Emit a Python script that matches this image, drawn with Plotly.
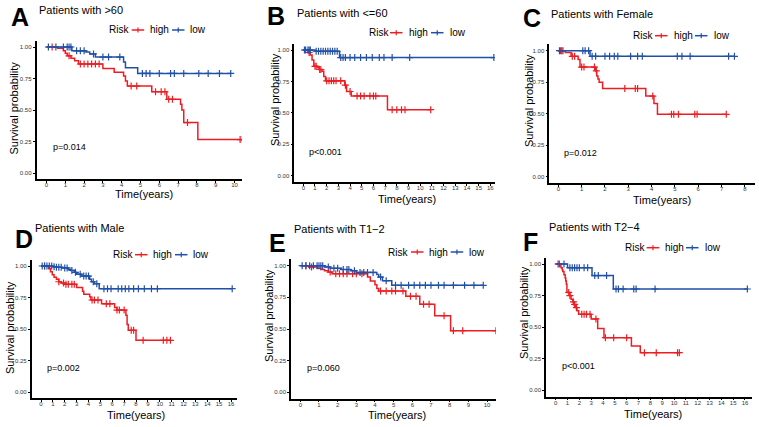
import numpy as np
import plotly.graph_objects as go

W, H = 759, 427
RED = "#EE1D23"
BLUE = "#2150A8"
FONT = "Liberation Sans, Arial, sans-serif"

# ---------------- data ----------------
panel_letters = ["A", "B", "C", "D", "E", "F"]
panel_titles = ["Patients with >60", "Patients with <=60", "Patients with Female",
                "Patients with Male", "Patients with T1\u22122", "Patients with T2\u22124"]
p_values = ["p=0.014", "p<0.001", "p=0.012", "p=0.002", "p=0.060", "p<0.001"]
legend_title = "Risk"
legend_labels = ["high", "low"]
y_ticks = [0, 0.25, 0.5, 0.75, 1.0]

A_high_t = [0.6, 0.9, 1.0, 1.1, 1.3, 1.5, 1.7, 3.0, 3.6, 4.1, 4.2, 4.3, 5.6, 6.4, 7.13, 7.2, 7.3, 8.05]
A_high_s = [0.99, 0.97, 0.95, 0.93, 0.91, 0.89, 0.865, 0.83, 0.80, 0.77, 0.73, 0.69, 0.645, 0.585, 0.545, 0.50, 0.40, 0.265]
A_high_c = [0.3, 1.2, 1.8, 2.0, 2.2, 2.4, 2.6, 2.8, 4.5, 4.8, 5.8, 6.1, 6.3, 6.5, 6.7, 7.5, 10.3, 10.42]
A_low_t = [1.35, 2.1, 2.3, 2.6, 4.1, 4.2, 4.85]
A_low_s = [0.97, 0.96, 0.945, 0.92, 0.88, 0.835, 0.79]
A_low_c = [0.1, 0.5, 0.9, 1.1, 1.2, 1.3, 1.6, 1.8, 2.0, 2.5, 3.0, 3.3, 3.9, 5.1, 5.3, 5.5, 6.0, 6.6, 6.8, 7.3, 8.1, 8.6, 9.2, 9.8]

B_high_t = [0.4, 0.6, 0.75, 0.9, 1.2, 1.35, 1.6, 1.75, 1.9, 3.55, 3.7, 4.1, 7.2]
B_high_s = [0.98, 0.96, 0.92, 0.87, 0.86, 0.845, 0.83, 0.79, 0.755, 0.72, 0.67, 0.635, 0.525]
B_high_c = [0.5, 1.0, 1.1, 1.4, 1.5, 2.0, 2.2, 2.4, 2.6, 2.8, 3.2, 3.6, 4.0, 4.6, 4.9, 5.2, 5.7, 6.0, 6.2, 7.6, 8.0, 8.4, 8.7, 10.9]
B_low_t = [1.0, 3.1]
B_low_s = [0.99, 0.94]
B_low_c = [0.1, 0.2, 0.4, 0.5, 0.6, 1.1, 1.3, 1.5, 1.7, 1.9, 2.1, 2.3, 2.5, 2.7, 2.9, 3.2, 3.4, 3.6, 4.0, 4.4, 4.9, 5.4, 5.9, 6.5, 6.9, 7.6, 9.1, 16.3]

C_high_t = [0.3, 0.55, 0.85, 0.93, 1.6, 1.65, 1.7, 1.75, 1.9, 3.75, 4.1, 4.25]
C_high_s = [0.985, 0.955, 0.93, 0.87, 0.84, 0.80, 0.775, 0.75, 0.70, 0.64, 0.58, 0.495]
C_high_c = [0.1, 0.2, 0.6, 0.7, 1.0, 1.1, 1.55, 1.63, 2.85, 3.3, 3.4, 4.05, 4.85, 4.95, 5.15, 5.85, 5.95, 7.2]
C_low_t = [1.36]
C_low_s = [0.955]
C_low_c = [0.05, 0.15, 1.05, 1.15, 1.3, 1.45, 1.6, 2.0, 2.2, 2.4, 2.55, 3.1, 3.4, 3.6, 5.1, 5.3, 5.65, 7.3, 7.55]

D_high_t = [0.65, 0.8, 0.95, 1.1, 1.3, 1.5, 1.7, 2.0, 3.0, 3.5, 3.6, 4.1, 4.2, 5.1, 6.2, 6.4, 7.15, 7.25, 7.35, 8.0]
D_high_s = [0.98, 0.955, 0.93, 0.91, 0.895, 0.875, 0.865, 0.855, 0.83, 0.80, 0.775, 0.755, 0.73, 0.70, 0.67, 0.65, 0.61, 0.535, 0.49, 0.41]
D_high_c = [0.3, 1.5, 1.9, 2.1, 2.3, 2.6, 2.8, 4.3, 4.5, 4.8, 5.5, 5.8, 6.4, 6.6, 7.0, 7.6, 7.8, 8.6, 10.3, 10.6, 10.9]
D_low_t = [1.0, 1.3, 1.8, 2.3, 2.5, 2.8, 3.0, 3.4, 4.1, 4.25, 4.5, 4.9]
D_low_s = [0.995, 0.99, 0.985, 0.975, 0.965, 0.95, 0.935, 0.92, 0.895, 0.875, 0.86, 0.82]
D_low_c = [0.1, 0.3, 0.5, 0.7, 0.9, 1.1, 1.3, 1.5, 1.7, 2.0, 2.2, 2.6, 2.9, 3.3, 3.6, 3.8, 4.0, 4.4, 4.7, 5.3, 5.6, 5.9, 6.5, 6.8, 7.1, 7.4, 7.8, 8.2, 8.7, 9.3, 9.8, 16.1]

E_high_t = [0.45, 0.9, 1.1, 1.3, 1.5, 1.7, 3.6, 3.75, 4.0, 4.1, 4.2, 5.65, 6.4, 7.2, 8.05]
E_high_s = [0.99, 0.98, 0.97, 0.96, 0.95, 0.937, 0.91, 0.88, 0.85, 0.82, 0.80, 0.758, 0.695, 0.605, 0.487]
E_high_c = [0.3, 0.6, 1.6, 1.9, 2.1, 2.3, 2.5, 2.8, 3.0, 3.3, 4.3, 4.6, 4.9, 5.1, 5.5, 5.9, 6.2, 6.6, 6.9, 7.7, 8.2, 8.7, 10.48]
E_low_t = [1.3, 1.6, 2.2, 2.7, 3.0, 4.1, 4.2, 4.4, 4.9]
E_low_s = [0.99, 0.98, 0.97, 0.96, 0.947, 0.93, 0.91, 0.882, 0.845]
E_low_c = [0.1, 0.3, 0.5, 0.7, 0.9, 1.0, 1.1, 1.2, 1.5, 1.8, 2.0, 2.3, 2.5, 2.6, 2.9, 3.2, 3.4, 3.6, 3.9, 4.3, 4.6, 5.1, 5.4, 5.8, 6.1, 6.4, 6.7, 7.0, 7.4, 7.7, 8.2, 8.8, 9.3, 9.8]

F_high_t = [0.35, 0.45, 0.55, 0.6, 0.7, 0.8, 0.85, 0.9, 0.95, 1.2, 1.3, 1.45, 1.55, 1.7, 1.8, 1.94, 3.0, 3.55, 4.08, 6.4, 7.15]
F_high_s = [0.985, 0.97, 0.955, 0.94, 0.915, 0.89, 0.865, 0.84, 0.775, 0.75, 0.72, 0.70, 0.68, 0.655, 0.63, 0.602, 0.565, 0.49, 0.417, 0.351, 0.298]
F_high_c = [0.2, 1.1, 1.2, 1.5, 1.6, 1.75, 2.2, 2.4, 2.6, 2.9, 3.4, 4.2, 4.9, 6.0, 7.5, 8.5, 10.3, 10.45]
F_low_t = [1.0, 3.07, 4.87]
F_low_s = [0.971, 0.908, 0.802]
F_low_c = [0.3, 0.7, 1.2, 1.4, 1.6, 1.8, 2.0, 2.4, 2.7, 3.3, 3.6, 4.3, 5.1, 5.3, 5.7, 6.6, 6.8, 8.4, 16.2]

DATA = [
    ((A_high_t, A_high_s, A_high_c), (A_low_t, A_low_s, A_low_c)),
    ((B_high_t, B_high_s, B_high_c), (B_low_t, B_low_s, B_low_c)),
    ((C_high_t, C_high_s, C_high_c), (C_low_t, C_low_s, C_low_c)),
    ((D_high_t, D_high_s, D_high_c), (D_low_t, D_low_s, D_low_c)),
    ((E_high_t, E_high_s, E_high_c), (E_low_t, E_low_s, E_low_c)),
    ((F_high_t, F_high_s, F_high_c), (F_low_t, F_low_s, F_low_c)),
]

# ---------------- layout geometry (pixels) ----------------
GEOM = [
    dict(l=36.5, x0=46.5, ppy=18.8, r=242, y1=47, y0=173),
    dict(l=294.3, x0=303.3, ppy=11.69, r=495, y1=50, y0=175.7),
    dict(l=549.3, x0=558.3, ppy=23.33, r=755, y1=50.7, y0=176.7),
    dict(l=31.7, x0=41, ppy=11.875, r=237, y1=266, y0=392),
    dict(l=291, x0=300.3, ppy=18.67, r=496, y1=265.7, y0=392.3),
    dict(l=546, x0=555.7, ppy=11.83, r=751.7, y1=264, y0=390.3),
]
TEXTPOS = [
    dict(letter=(9, 16.5), title=(37.3, 9.5), risk=(107.3, 30), k1=131.7, hi=148.3, k2=172, lo=188.3,
         ylab=(14.2, 108.3), xlab=(143.5, 194), p=(50.7, 146.7)),
    dict(letter=(265, 16), title=(295, 12.7), risk=(366.7, 32.7), k1=390, hi=407.3, k2=431, lo=447.7,
         ylab=(275, 100), xlab=(406.7, 199), p=(307.3, 151.7)),
    dict(letter=(520.7, 18.3), title=(549.3, 14), risk=(631, 35.7), k1=655, hi=671.7, k2=695, lo=711.7,
         ylab=(528.3, 100.7), xlab=(661.7, 200), p=(562.3, 153.3)),
    dict(letter=(12.7, 238.7), title=(32.7, 228), risk=(110.7, 254.7), k1=135, hi=151, k2=175, lo=190.7,
         ylab=(9.3, 327.7), xlab=(135.8, 415.3), p=(45, 367.7)),
    dict(letter=(267.3, 243.3), title=(291.7, 228.7), risk=(386, 252), k1=411, hi=426.7, k2=450.7, lo=466.7,
         ylab=(269, 316), xlab=(397, 415), p=(305, 367.7)),
    dict(letter=(520.7, 241.7), title=(547.3, 227), risk=(622.7, 247.7), k1=646.7, hi=663.3, k2=686, lo=702.7,
         ylab=(523.3, 312.7), xlab=(653.3, 413.7), p=(560, 366)),
]


def px(x):
    return x / W


def py(y):
    return 1 - y / H


fig = go.Figure()
annotations = []
shapes = []
layout = {}

for i, ((hi_t, hi_s, hi_c), (lo_t, lo_s, lo_c)) in enumerate(DATA):
    k = i + 1
    xa = "x" if k == 1 else f"x{k}"
    ya = "y" if k == 1 else f"y{k}"
    g = GEOM[i]
    upp = g["y0"] - g["y1"]
    ybot = g["y0"] + 0.05 * upp
    ytop = g["y1"] - 0.05 * upp
    xr = [-(g["x0"] - g["l"]) / g["ppy"], (g["r"] - g["x0"]) / g["ppy"]]
    tmax = int(np.floor(xr[1]))

    for (t, s, c, col) in [(hi_t, hi_s, hi_c, RED), (lo_t, lo_s, lo_c, BLUE)]:
        t = np.asarray(t, float)
        s = np.asarray(s, float)
        c = np.asarray(c, float)
        end = max(c.max(), t.max())
        xs = np.concatenate([[0.0], t, [end]])
        ys = np.concatenate([[1.0], s, [s[-1]]])
        fig.add_trace(go.Scatter(x=xs, y=ys, mode="lines", line=dict(color=col, width=1.5, shape="hv"),
                                 xaxis=xa, yaxis=ya, showlegend=False, hoverinfo="skip"))
        idx = np.searchsorted(t, c, side="right")
        allS = np.concatenate([[1.0], s])
        cy = allS[idx]
        fig.add_trace(go.Scatter(x=c, y=cy, mode="markers",
                                 marker=dict(symbol="cross-thin", size=5, line=dict(color=col, width=1.2)),
                                 xaxis=xa, yaxis=ya, showlegend=False, hoverinfo="skip"))

    xkey = "xaxis" if k == 1 else f"xaxis{k}"
    ykey = "yaxis" if k == 1 else f"yaxis{k}"
    layout[xkey] = dict(domain=[px(g["l"]), px(g["r"])], anchor=ya, range=xr,
                        tickmode="array", tickvals=list(range(0, tmax + 1)),
                        ticktext=[str(v) for v in range(0, tmax + 1)],
                        showline=True, linecolor="black", linewidth=1.6, showgrid=False, zeroline=False,
                        ticks="outside", ticklen=2, tickwidth=0.8, tickcolor="black",
                        ticklabelstandoff=-3,
                        tickfont=dict(size=6, color="#333333", family=FONT))
    layout[ykey] = dict(domain=[py(ybot), py(ytop)], anchor=xa, range=[-0.05, 1.05],
                        tickmode="array", tickvals=y_ticks, ticktext=[f"{v:.2f}" for v in y_ticks],
                        showline=True, linecolor="black", linewidth=1.6, showgrid=False, zeroline=False,
                        ticks="outside", ticklen=2, tickwidth=0.8, tickcolor="black",
                        tickfont=dict(size=6, color="#333333", family=FONT))

    tp = TEXTPOS[i]
    annotations.append(dict(text=f"<b>{panel_letters[i]}</b>", x=px(tp["letter"][0]), y=py(tp["letter"][1]),
                            xref="paper", yref="paper", xanchor="left", yanchor="middle", showarrow=False,
                            font=dict(size=25, color="black", family=FONT)))
    annotations.append(dict(text=panel_titles[i], x=px(tp["title"][0]), y=py(tp["title"][1]),
                            xref="paper", yref="paper", xanchor="left", yanchor="middle", showarrow=False,
                            font=dict(size=11, color="black", family=FONT)))
    annotations.append(dict(text=legend_title, x=px(tp["risk"][0]), y=py(tp["risk"][1]),
                            xref="paper", yref="paper", xanchor="left", yanchor="middle", showarrow=False,
                            font=dict(size=10, color="black", family=FONT)))
    for lab, kx, tx, col in [(legend_labels[0], tp["k1"], tp["hi"], RED), (legend_labels[1], tp["k2"], tp["lo"], BLUE)]:
        annotations.append(dict(text=lab, x=px(tx), y=py(tp["risk"][1]),
                                xref="paper", yref="paper", xanchor="left", yanchor="middle", showarrow=False,
                                font=dict(size=10, color="black", family=FONT)))
        ly = py(tp["risk"][1])
        shapes.append(dict(type="line", xref="paper", yref="paper", x0=px(kx), x1=px(kx + 12.5),
                           y0=ly, y1=ly, line=dict(color=col, width=1.5)))
        shapes.append(dict(type="line", xref="paper", yref="paper", x0=px(kx + 6.25), x1=px(kx + 6.25),
                           y0=ly - 2.5 / H, y1=ly + 2.5 / H, line=dict(color=col, width=1.2)))
    annotations.append(dict(text="Survival probability", x=px(tp["ylab"][0]), y=py(tp["ylab"][1]),
                            xref="paper", yref="paper", xanchor="center", yanchor="middle", showarrow=False,
                            textangle=-90, font=dict(size=11, color="black", family=FONT)))
    annotations.append(dict(text="Time(years)", x=px(tp["xlab"][0]), y=py(tp["xlab"][1]),
                            xref="paper", yref="paper", xanchor="center", yanchor="middle", showarrow=False,
                            font=dict(size=11, color="black", family=FONT)))
    annotations.append(dict(text=p_values[i], x=px(tp["p"][0]), y=py(tp["p"][1]),
                            xref="paper", yref="paper", xanchor="left", yanchor="middle", showarrow=False,
                            font=dict(size=9, color="black", family=FONT)))

fig.update_layout(width=W, height=H, margin=dict(l=0, r=0, t=0, b=0),
                  paper_bgcolor="white", plot_bgcolor="white", showlegend=False,
                  annotations=annotations, shapes=shapes, **layout)
fig.write_html("out.html", config={"displayModeBar": False},
               post_script="document.body.style.margin='0px';document.body.style.overflow='hidden';")
